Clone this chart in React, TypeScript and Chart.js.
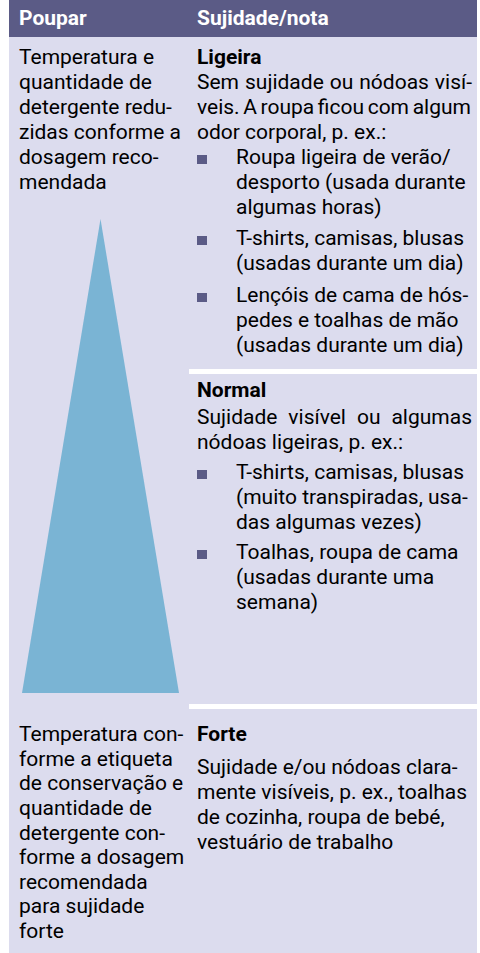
import React, { useEffect, useRef } from "react";
import { Chart, registerables } from "chart.js";

Chart.register(...registerables);

// ---- data ----
const headers = ["Poupar", "Sujidade/nota"];
// relative position across the bar (0 = left, 1 = right) and level (0 = bottom, 1 = apex)
const triangleX = [0, 0.5, 1];
const triangleY = [0, 1, 0];

const leftTop = ["Temperatura e", "quantidade de", "detergente redu-", "zidas conforme a", "dosagem reco-", "mendada"];
const leftBottom = [
  "Temperatura con-",
  "forme a etiqueta",
  "de conservação e",
  "quantidade de",
  "detergente con-",
  "forme a dosagem",
  "recomendada",
  "para sujidade",
  "forte",
];

const ligeiraTitle = "Ligeira";
const ligeiraIntro = ["Sem sujidade ou nódoas visí-", "veis. A roupa ficou com algum", "odor corporal, p. ex.:"];
const ligeiraBullets = [
  ["Roupa ligeira de verão/", "desporto (usada durante", "algumas horas)"],
  ["T-shirts, camisas, blusas", "(usadas durante um dia)"],
  ["Lençóis de cama de hós-", "pedes e toalhas de mão", "(usadas durante um dia)"],
];

const normalTitle = "Normal";
const normalIntro = ["Sujidade visível ou algumas", "nódoas ligeiras, p. ex.:"];
const normalBullets = [
  ["T-shirts, camisas, blusas", "(muito transpiradas, usa-", "das algumas vezes)"],
  ["Toalhas, roupa de cama", "(usadas durante uma", "semana)"],
];

const forteTitle = "Forte";
const forteIntro = ["Sujidade e/ou nódoas clara-", "mente visíveis, p. ex., toalhas", "de cozinha, roupa de bebé,", "vestuário de trabalho"];

// ---- styles ----
const FONT = "Roboto, 'Liberation Sans', sans-serif";
const HEADER_BG = "#5b5b86";
const BODY_BG = "#dcdcee";
const TRI_COLOR = "#7ab4d4";
const FS = 21;
const LH = 25;
const B2T = 19.7; // baseline -> line-top offset
// per-line spacing mode: "j" = justified to column width, "t" = tightened words, "" = natural
const ligeiraModes = ["j", "t", ""];
const normalModes = ["j", ""];

function styleFor(mode: string, lh: number): React.CSSProperties {
  const base: React.CSSProperties = { whiteSpace: "nowrap", height: lh, lineHeight: lh + "px" };
  if (mode === "j") return { ...base, whiteSpace: "normal", textAlign: "justify", textAlignLast: "justify" as any };
  if (mode === "t") return { ...base, wordSpacing: "-1.6px" };
  return base;
}

function Lines({ lines, modes, lh = LH }: { lines: string[]; modes?: string[]; lh?: number }) {
  return (
    <>
      {lines.map((l, i) => (
        <div key={i} style={styleFor(modes ? modes[i] : "", lh)}>
          {l}
        </div>
      ))}
    </>
  );
}

function Block({ baseline, left, width, children }: { baseline: number; left: number; width: number; children: React.ReactNode }) {
  return <div style={{ position: "absolute", top: baseline - B2T, left, width }}>{children}</div>;
}

function Bullet({ baseline, lines }: { baseline: number; lines: string[] }) {
  return (
    <div style={{ position: "absolute", top: baseline - B2T, left: 197, width: 275 }}>
      <div style={{ position: "absolute", left: 0, top: B2T - 9.5, width: 10, height: 9, background: HEADER_BG }} />
      <div style={{ marginLeft: 39 }}>
        <Lines lines={lines} />
      </div>
    </div>
  );
}

function Triangle() {
  const ref = useRef<HTMLCanvasElement | null>(null);
  useEffect(() => {
    if (!ref.current) return;
    const chart = new Chart(ref.current, {
      type: "line",
      data: {
        datasets: [
          {
            data: triangleX.map((x, i) => ({ x, y: triangleY[i] })),
            fill: "origin",
            backgroundColor: TRI_COLOR,
            borderColor: "rgba(0,0,0,0)",
            borderWidth: 0,
            pointRadius: 0,
            tension: 0,
          },
        ],
      },
      options: {
        animation: false,
        responsive: false,
        devicePixelRatio: 1,
        events: [],
        layout: { padding: 0 },
        plugins: { legend: { display: false }, tooltip: { enabled: false } },
        scales: {
          x: { type: "linear", min: 0, max: 1, display: false },
          y: { type: "linear", min: 0, max: 1, display: false },
        },
      },
    });
    return () => chart.destroy();
  }, []);
  return (
    <canvas
      ref={ref}
      width={157}
      height={474}
      style={{ position: "absolute", left: 22, top: 219, width: 157, height: 474 }}
    />
  );
}

export default function App() {
  const rightW = 275;
  const headerStyle: React.CSSProperties = {
    position: "absolute",
    top: 26 - B2T,
    height: LH,
    lineHeight: LH + "px",
    whiteSpace: "nowrap",
    color: "#fff",
    fontWeight: "bold",
  };
  return (
    <div
      style={{
        position: "absolute",
        left: 0,
        top: 0,
        width: 480,
        height: 953,
        background: "#ffffff",
        fontFamily: FONT,
        fontSize: FS,
        color: "#000",
        overflow: "hidden",
      }}
    >
      {/* table background */}
      <div style={{ position: "absolute", left: 9, top: 0, width: 468, height: 37, background: HEADER_BG }} />
      <div style={{ position: "absolute", left: 9, top: 37, width: 468, height: 916, background: BODY_BG }} />
      {/* separators in right column */}
      <div style={{ position: "absolute", left: 189, top: 369, width: 288, height: 5, background: "#fff" }} />
      <div style={{ position: "absolute", left: 189, top: 704, width: 288, height: 5, background: "#fff" }} />

      {/* header text */}
      <div style={{ ...headerStyle, left: 19 }}>{headers[0]}</div>
      <div style={{ ...headerStyle, left: 197 }}>{headers[1]}</div>

      {/* left column */}
      <Block baseline={65} left={19} width={170}>
        <Lines lines={leftTop} />
      </Block>
      <Triangle />
      <Block baseline={742} left={19} width={170}>
        <Lines lines={leftBottom} lh={24.6} />
      </Block>

      {/* Ligeira */}
      <Block baseline={65} left={197} width={rightW}>
        <div style={{ ...styleFor("", LH), fontWeight: "bold" }}>{ligeiraTitle}</div>
        <Lines lines={ligeiraIntro} modes={ligeiraModes} />
      </Block>
      <Bullet baseline={165} lines={ligeiraBullets[0]} />
      <Bullet baseline={246} lines={ligeiraBullets[1]} />
      <Bullet baseline={303} lines={ligeiraBullets[2]} />

      {/* Normal */}
      <Block baseline={398} left={197} width={rightW}>
        <div style={{ ...styleFor("", LH), fontWeight: "bold" }}>{normalTitle}</div>
      </Block>
      <Block baseline={425} left={197} width={rightW}>
        <Lines lines={normalIntro} modes={normalModes} />
      </Block>
      <Bullet baseline={480} lines={normalBullets[0]} />
      <Bullet baseline={560} lines={normalBullets[1]} />

      {/* Forte */}
      <Block baseline={742} left={197} width={rightW}>
        <div style={{ ...styleFor("", LH), fontWeight: "bold" }}>{forteTitle}</div>
      </Block>
      <Block baseline={775} left={197} width={rightW}>
        <Lines lines={forteIntro} />
      </Block>
    </div>
  );
}
